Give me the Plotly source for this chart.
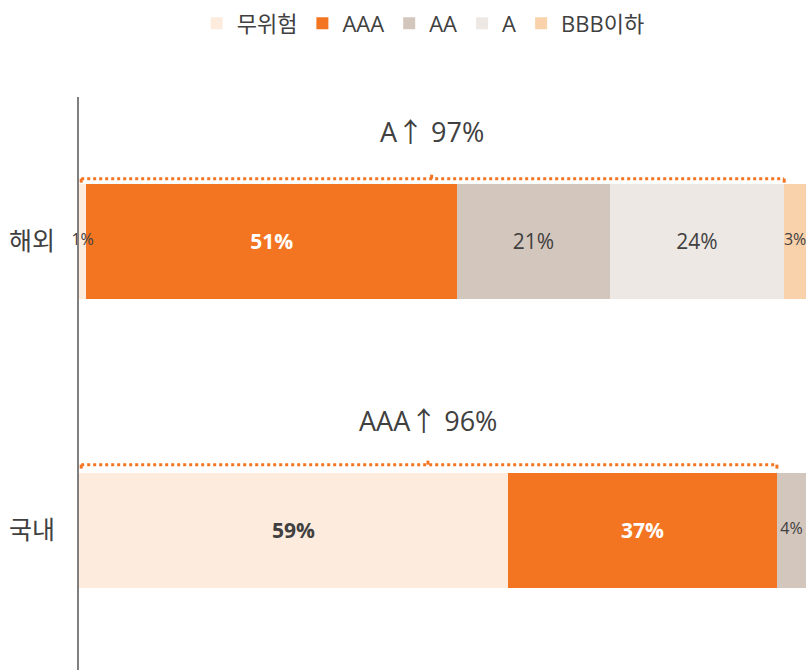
import plotly.graph_objects as go

categories = ['해외', '국내']
series = ['무위험', 'AAA', 'AA', 'A', 'BBB이하']
values = {
    '무위험': [1, 59],
    'AAA': [51, 37],
    'AA': [21, 4],
    'A': [24, 0],
    'BBB이하': [3, 0],
}
colors = {
    '무위험': '#FDEBDD',
    'AAA': '#F47521',
    'AA': '#D3C6BC',
    'A': '#EDE8E4',
    'BBB이하': '#F9D1AA',
}
bold_series = ['무위험', 'AAA']
white_text = ['AAA']

# bracket callouts over each bar
callout_text = ['A↑ 97%', 'AAA↑ 96%']
callout_total = [97, 96]

FONT = 'Open Sans, Noto Sans CJK KR, sans-serif'
DARK = '#404040'
ORANGE = '#F47521'
BAR_W = 0.4

fig = go.Figure()
small_x, small_y, small_t = [], [], []
cum = [0] * len(categories)
for s in series:
    texts, cols = [], []
    for i, v in enumerate(values[s]):
        if v < 5:
            texts.append('')
            if v > 0:
                small_x.append(cum[i] + v / 2)
                small_y.append(categories[i])
                small_t.append(f'{v}%')
        elif s in bold_series:
            texts.append(f'<b>{v}%</b>')
        else:
            texts.append(f'{v}%')
        cols.append('white' if s in white_text else DARK)
        cum[i] += v
    fig.add_trace(go.Bar(
        y=categories, x=values[s], name=s, orientation='h',
        marker=dict(color=colors[s], line=dict(width=0)),
        width=BAR_W,
        text=texts, textposition='inside', insidetextanchor='middle',
        textangle=0, constraintext='none',
        textfont=dict(size=21, color=cols, family=FONT),
        hoverinfo='skip',
    ))

# labels for slivers too thin to hold their own text
fig.add_trace(go.Scatter(
    x=small_x, y=small_y, text=small_t, mode='text', showlegend=False,
    textfont=dict(size=16, color=DARK, family=FONT), cliponaxis=False,
    hoverinfo='skip',
))

# y positions: category index on the categorical axis
ypos = {'국내': 0, '해외': 1}
for cat, txt, tot in zip(categories, callout_text, callout_total):
    top = ypos[cat] + BAR_W / 2
    fig.add_annotation(x=tot / 2, y=top, xref='x', yref='y', text=txt,
                       showarrow=False, yshift=52, yanchor='middle',
                       font=dict(size=27, color=DARK, family=FONT))
    gap = 5 if cat == '해외' else 8
    line = dict(color=ORANGE, width=3, dash='dot')
    fig.add_shape(type='line', xref='x', yref='y', ysizemode='pixel', yanchor=top,
                  x0=0.3, x1=tot, y0=gap, y1=gap, line=line)
    tick = dict(color=ORANGE, width=3)
    fig.add_shape(type='line', xref='x', yref='y', ysizemode='pixel', yanchor=top,
                  x0=tot / 2, x1=tot / 2, y0=gap, y1=gap + 4, line=tick)
    for xe in (0.3, tot):
        fig.add_shape(type='line', xref='x', yref='y', ysizemode='pixel', yanchor=top,
                      x0=xe, x1=xe, y0=gap, y1=gap - 4, line=tick)

fig.update_layout(
    barmode='stack',
    width=806, height=670,
    margin=dict(l=79, r=0, t=97, b=0, autoexpand=False),
    plot_bgcolor='white', paper_bgcolor='white',
    font=dict(family=FONT, color=DARK),
    showlegend=True,
    legend=dict(orientation='h', xref='container', yref='container',
                x=0.525, xanchor='center', y=0.965, yanchor='middle',
                font=dict(size=22, color=DARK, family=FONT),
                traceorder='normal', itemwidth=30),
    xaxis=dict(range=[0, 100], visible=False, fixedrange=True, automargin=False),
    yaxis=dict(type='category', categoryorder='array', categoryarray=['국내', '해외'],
               range=[-0.483, 1.5], showline=True, linecolor='#7F7F7F', linewidth=2,
               showgrid=False, zeroline=False, ticks='', ticklabelstandoff=17,
               automargin=False,
               tickfont=dict(size=25, color=DARK, family=FONT)),
)

fig.write_html('out.html', config={'displayModeBar': False},
               post_script="document.body.style.margin='0';")
